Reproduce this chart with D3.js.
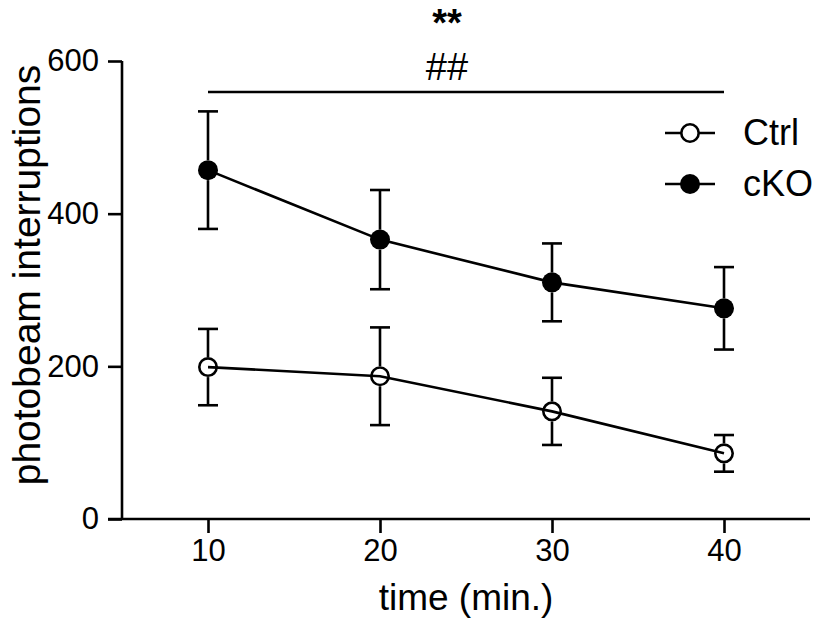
<!DOCTYPE html>
<html>
<head>
<meta charset="utf-8">
<script src="https://cdn.jsdelivr.net/npm/d3@7"></script>
<style>
  body { margin: 0; background: #fff; }
  text { font-family: "Liberation Sans", Arial, sans-serif; fill: #000; }
</style>
</head>
<body>
<svg id="chart" width="815" height="625"></svg>
<script>
(function () {
    'use strict';

    /* Data */

    var times = [10, 20, 30, 40],
        ctrlMean = [199, 187, 141, 86],
        ctrlSem = [50, 64, 44, 24],
        ckoMean = [457, 366, 310, 276],
        ckoSem = [77, 65, 51, 54],
        yTicks = [0, 200, 400, 600],
        xTicks = [10, 20, 30, 40],
        groups = ['Ctrl', 'cKO'];

    var svg = d3.select('#chart'),
        sw = 2.6,
        r = 10;

    var x = d3.scaleLinear().domain([5, 45]).range([122, 810]),
        y = d3.scaleLinear().domain([0, 600]).range([519, 61]);

    /* Axes */

    var yAxis = svg.append('g')
        .attr('transform', 'translate(' + x(5) + ',0)')
        .call(d3.axisLeft(y).tickValues(yTicks).tickSize(14).tickPadding(9).tickFormat(d3.format('d')));

    var xAxis = svg.append('g')
        .attr('transform', 'translate(0,' + y(0) + ')')
        .call(d3.axisBottom(x).tickValues(xTicks).tickSize(14).tickPadding(6).tickFormat(d3.format('d')));

    [yAxis, xAxis].forEach(function (g) {
        g.select('.domain').remove();
        g.selectAll('.tick line').attr('stroke', '#000').attr('stroke-width', sw);
        g.selectAll('.tick text').attr('font-size', 31).style('font-family', '"Liberation Sans", Arial, sans-serif');
    });

    // axis lines (x axis runs left to the 0 tick)
    svg.append('line')
        .attr('x1', x(5)).attr('x2', x(5)).attr('y1', y(600)).attr('y2', y(0))
        .attr('stroke', '#000').attr('stroke-width', sw);
    svg.append('line')
        .attr('x1', x(5) - 14).attr('x2', x(45)).attr('y1', y(0)).attr('y2', y(0))
        .attr('stroke', '#000').attr('stroke-width', sw);

    /* Titles */

    svg.append('text')
        .attr('transform', 'translate(40,' + ((y(0) + y(600)) / 2 - 15) + ') rotate(-90)')
        .attr('text-anchor', 'middle')
        .attr('font-size', 39)
        .text('photobeam interruptions');

    svg.append('text')
        .attr('x', (x(10) + x(40)) / 2)
        .attr('y', 610)
        .attr('text-anchor', 'middle')
        .attr('font-size', 37)
        .text('time (min.)');

    /* Series */

    var line = d3.line()
        .x(function (d) { return x(d[0]); })
        .y(function (d) { return y(d[1]); });

    function drawSeries(means, sems, filled) {
        var pts = times.map(function (t, i) { return [t, means[i], sems[i]]; });
        var g = svg.append('g');

        g.append('path')
            .datum(pts)
            .attr('d', line)
            .attr('fill', 'none')
            .attr('stroke', '#000')
            .attr('stroke-width', sw);

        var bars = g.selectAll('.err').data(pts).enter().append('g');
        bars.append('line')
            .attr('x1', function (d) { return x(d[0]); })
            .attr('x2', function (d) { return x(d[0]); })
            .attr('y1', function (d) { return y(d[1] + d[2]); })
            .attr('y2', function (d) { return y(d[1]) - r; });
        bars.append('line')
            .attr('x1', function (d) { return x(d[0]); })
            .attr('x2', function (d) { return x(d[0]); })
            .attr('y1', function (d) { return y(d[1]) + r; })
            .attr('y2', function (d) { return y(d[1] - d[2]); });
        [1, -1].forEach(function (s) {
            bars.append('line')
                .attr('x1', function (d) { return x(d[0]) - 10; })
                .attr('x2', function (d) { return x(d[0]) + 10; })
                .attr('y1', function (d) { return y(d[1] + s * d[2]); })
                .attr('y2', function (d) { return y(d[1] + s * d[2]); });
        });
        bars.selectAll('line').attr('stroke', '#000').attr('stroke-width', sw);

        g.selectAll('circle').data(pts).enter().append('circle')
            .attr('cx', function (d) { return x(d[0]); })
            .attr('cy', function (d) { return y(d[1]); })
            .attr('r', filled ? r : r - sw / 2)
            .attr('fill', filled ? '#000' : 'none')
            .attr('stroke', filled ? 'none' : '#000')
            .attr('stroke-width', sw);
    }

    drawSeries(ctrlMean, ctrlSem, false);
    drawSeries(ckoMean, ckoSem, true);

    /* Significance */

    svg.append('line')
        .attr('x1', x(10)).attr('x2', x(40)).attr('y1', 92).attr('y2', 92)
        .attr('stroke', '#000').attr('stroke-width', sw);
    svg.append('text')
        .attr('x', 447).attr('y', 80)
        .attr('text-anchor', 'middle').attr('font-size', 38)
        .text('##');
    svg.append('text')
        .attr('x', 447).attr('y', 36)
        .attr('text-anchor', 'middle').attr('font-size', 38)
        .attr('font-weight', 'bold')
        .text('**');

    /* Legend */

    var legend = svg.append('g').selectAll('g').data(groups).enter().append('g')
        .attr('transform', function (d, i) { return 'translate(665,' + (133 + i * 51) + ')'; });
    legend.append('line')
        .attr('x1', 0).attr('x2', 50).attr('y1', 0).attr('y2', 0)
        .attr('stroke', '#000').attr('stroke-width', sw);
    legend.append('circle')
        .attr('cx', 25).attr('cy', 0)
        .attr('r', function (d, i) { return i ? r : r - sw / 2; })
        .attr('fill', function (d, i) { return i ? '#000' : '#fff'; })
        .attr('stroke', function (d, i) { return i ? 'none' : '#000'; })
        .attr('stroke-width', sw);
    legend.append('text')
        .attr('x', 78).attr('y', 12)
        .attr('font-size', 36)
        .text(function (d) { return d; });

})();
</script>
</body>
</html>
